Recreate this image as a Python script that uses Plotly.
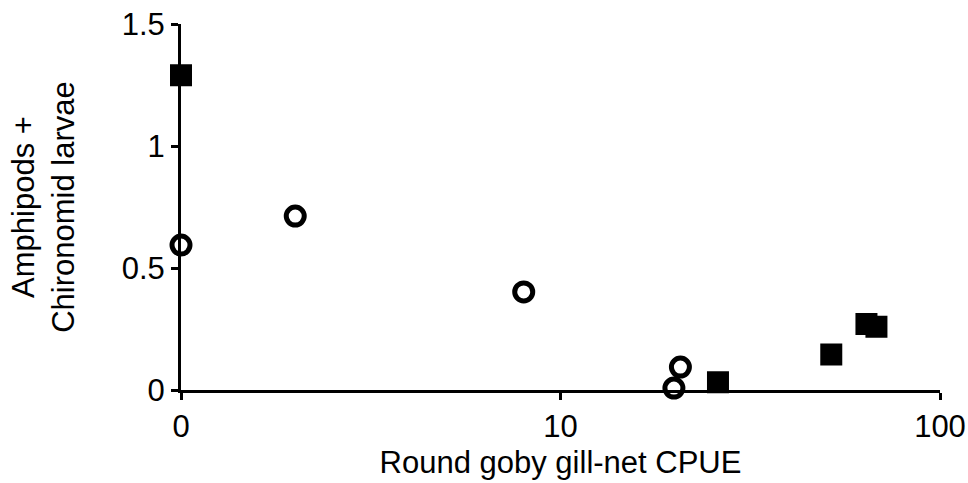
import plotly.graph_objects as go

# Values on the log x axis (axis value 1 is labelled "0")
square_x = [1, 26.0, 51.7, 64.0, 68.0]
square_y = [1.29, 0.032, 0.146, 0.27, 0.259]
circle_x = [1, 2.0, 8.0, 20.7, 19.9]
circle_y = [0.594, 0.713, 0.402, 0.094, 0.008]

x_tickvals = [1, 10, 100]
x_ticktext = ["0", "10", "100"]
y_tickvals = [0, 0.5, 1, 1.5]
y_ticktext = ["0", "0.5", "1", "1.5"]

FONT = "Liberation Sans"
FS = 31

fig = go.Figure()
fig.add_trace(go.Scatter(
    x=circle_x, y=circle_y, mode="markers", cliponaxis=False,
    marker=dict(symbol="circle-open", size=18, color="black",
                line=dict(width=5, color="black")),
    showlegend=False))
fig.add_trace(go.Scatter(
    x=square_x, y=square_y, mode="markers", cliponaxis=False,
    marker=dict(symbol="square", size=20, color="black",
                line=dict(width=2, color="black")),
    showlegend=False))

fig.update_layout(
    width=968, height=483,
    margin=dict(l=181, r=28, t=24, b=93, autoexpand=False),
    paper_bgcolor="white", plot_bgcolor="white",
    font=dict(family=FONT, size=FS, color="black"),
    xaxis=dict(
        type="log", range=[0, 2], automargin=False,
        tickvals=x_tickvals, ticktext=x_ticktext,
        showline=True, linecolor="black", linewidth=3,
        ticks="outside", ticklen=7, tickwidth=3, tickcolor="black",
        showgrid=False, zeroline=False,
        title=dict(text="Round goby gill-net CPUE", standoff=9,
                   font=dict(family=FONT, size=FS)),
        tickfont=dict(family=FONT, size=FS),
    ),
    yaxis=dict(
        range=[0, 1.5], automargin=False,
        tickvals=y_tickvals, ticktext=y_ticktext,
        showline=True, linecolor="black", linewidth=3,
        ticks="outside", ticklen=7, tickwidth=3, tickcolor="black",
        showgrid=False, zeroline=False,
        title=dict(text="Amphipods +<br>Chironomid larvae", standoff=38,
                   font=dict(family=FONT, size=FS)),
        tickfont=dict(family=FONT, size=FS),
    ),
)

fig.write_html("out.html")
